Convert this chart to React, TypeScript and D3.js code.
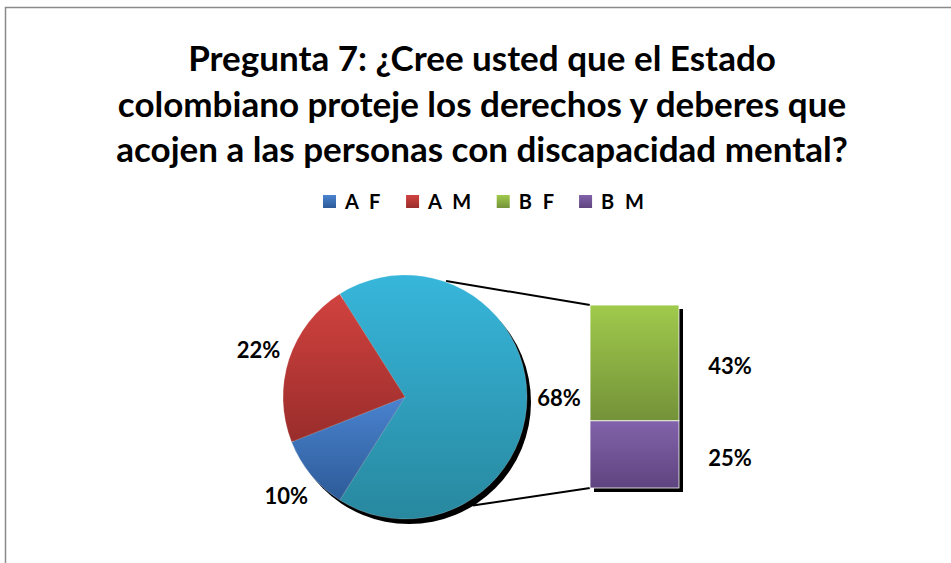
import React from 'react';
import * as d3 from 'd3';

const W = 951;
const H = 563;

const titleLines = [
  'Pregunta 7: ¿Cree usted que el Estado',
  'colombiano proteje los derechos y deberes que',
  'acojen a las personas con discapacidad mental?',
];
const legendLabels = ['A F', 'A M', 'B F', 'B M'];
const pieCategories = ['A F', 'A M', 'Otro'];
const pieValues = [10, 22, 68];
const pieLabels = ['10%', '22%', '68%'];
const barCategories = ['B F', 'B M'];
const barValues = [43, 25];
const barLabels = ['43%', '25%'];

const gradColors: Record<string, [string, string]> = {
  'A F': ['#4A83CF', '#2D5B98'],
  'A M': ['#D1423F', '#992D2B'],
  Otro: ['#37B6DB', '#28889F'],
  'B F': ['#A0CA4C', '#749239'],
  'B M': ['#8262AB', '#5E447F'],
};
const gradId = (k: string) => 'g_' + k.replace(/\s/g, '');

const FONT = 'Lato, "Open Sans", sans-serif';

function measure(text: string, font: string, spacing = 0) {
  const c = document.createElement('canvas').getContext('2d');
  if (!c) return text.length * 10;
  c.font = font;
  return c.measureText(text).width + spacing * text.length;
}

export default function App() {
  // pie layout
  const cx = 405;
  const cy = 397;
  const r = 122;
  const total = d3.sum(pieValues);
  const otherIdx = pieCategories.indexOf('Otro');
  const otherAngle = (pieValues[otherIdx] / total) * 2 * Math.PI;
  const start = Math.PI / 2 - otherAngle / 2;
  const order = [otherIdx, ...pieCategories.map((_, i) => i).filter((i) => i !== otherIdx)];
  const arcs = d3
    .pie<number>()
    .sort(null)
    .startAngle(start)
    .endAngle(start + 2 * Math.PI)
    .value((i) => pieValues[i])(order);
  const arcGen = d3.arc<d3.PieArcDatum<number>>().innerRadius(0).outerRadius(r);
  const labelArc = d3.arc<d3.PieArcDatum<number>>().innerRadius(r + 32).outerRadius(r + 32);

  // bar layout
  const barX = 590;
  const barW = 89;
  const y = d3.scaleLinear().domain([0, d3.sum(barValues)]).range([488, 305]);
  const segs: { key: string; y0: number; y1: number; label: string }[] = [];
  let acc = 0;
  for (let i = barValues.length - 1; i >= 0; i--) {
    segs.push({ key: barCategories[i], y0: acc, y1: acc + barValues[i], label: barLabels[i] });
    acc += barValues[i];
  }

  const polar = (a: number, rr: number) => [cx + rr * Math.sin(a), cy - rr * Math.cos(a)];
  const topPt = polar((19.5 * Math.PI) / 180, r + 1);
  const botPt = polar((148 * Math.PI) / 180, r + 6);

  // legend
  const legFontSize = 20;
  const legFont = `bold ${legFontSize}px ${FONT}`;
  const legSpacing = 3;
  const sq = 13;
  const items = legendLabels.map((l) => ({ l, tw: measure(l, legFont, legSpacing) }));
  const itemW = items.map((it) => sq + 9 + it.tw + 22);
  const totalLeg = d3.sum(itemW) - 22;
  let lx = 485 - totalLeg / 2;
  const legPos = items.map((it, i) => {
    const p = lx;
    lx += itemW[i];
    return { ...it, x: p };
  });

  const titleY = [71, 117, 162];

  return (
    <svg
      width={W}
      height={H}
      style={{ position: 'absolute', left: 0, top: 0, background: '#fff' }}
      fontFamily={FONT}
    >
      <defs>
        {Object.entries(gradColors).map(([k, [c0, c1]]) => (
          <linearGradient key={k} id={gradId(k)} x1="0" y1="0" x2="0" y2="1">
            <stop offset="0" stopColor={c0} />
            <stop offset="1" stopColor={c1} />
          </linearGradient>
        ))}
      </defs>
      <rect x={0} y={0} width={W} height={H} fill="#fff" />
      <path d={`M5.5,${H} L5.5,7.5 L${W},7.5`} fill="none" stroke="#8a8a8a" strokeWidth={1.5} />

      {titleLines.map((t, i) => (
        <text key={i} x={482} y={titleY[i]} textAnchor="middle" fontSize={35} fontWeight={700} fill="#000">
          {t}
        </text>
      ))}

      {legPos.map((it) => (
        <g key={it.l}>
          <rect x={it.x} y={195} width={sq} height={sq} fill={`url(#${gradId(it.l)})`} />
          <text x={it.x + sq + 9} y={209} fontSize={legFontSize} fontWeight={700} letterSpacing={legSpacing}>
            {it.l}
          </text>
        </g>
      ))}

      {/* connectors */}
      <line x1={topPt[0]} y1={topPt[1]} x2={barX} y2={y(d3.sum(barValues))} stroke="#000" strokeWidth={2} />
      <line x1={botPt[0]} y1={botPt[1]} x2={barX} y2={y(0)} stroke="#000" strokeWidth={2} />

      {/* pie shadow */}
      <circle cx={cx + 4} cy={cy + 5} r={r} fill="#000" />
      <g transform={`translate(${cx},${cy})`}>
        {arcs.map((a) => (
          <path
            key={a.data}
            d={arcGen(a) || ''}
            fill={`url(#${gradId(pieCategories[a.data])})`}
            stroke="#ffffff"
            strokeOpacity={0.35}
            strokeWidth={0.6}
          />
        ))}
        {arcs.map((a) => {
          const [lxp, lyp] = labelArc.centroid(a);
          return (
            <text
              key={'l' + a.data}
              x={lxp}
              y={lyp}
              textAnchor="middle"
              dominantBaseline="central"
              fontSize={22}
              fontWeight={700}
              fill="#000"
            >
              {pieLabels[a.data]}
            </text>
          );
        })}
      </g>

      {/* bar shadow */}
      <rect x={barX + 4} y={y(d3.sum(barValues)) + 4} width={barW} height={y(0) - y(d3.sum(barValues))} fill="#000" />
      {segs.map((s) => (
        <g key={s.key}>
          <rect
            x={barX}
            y={y(s.y1)}
            width={barW}
            height={y(s.y0) - y(s.y1)}
            fill={`url(#${gradId(s.key)})`}
            stroke="#fff"
            strokeWidth={0.8}
          />
          <text
            x={730}
            y={(y(s.y0) + y(s.y1)) / 2 + 3}
            textAnchor="middle"
            dominantBaseline="central"
            fontSize={22}
            fontWeight={700}
            fill="#000"
          >
            {s.label}
          </text>
        </g>
      ))}
    </svg>
  );
}
